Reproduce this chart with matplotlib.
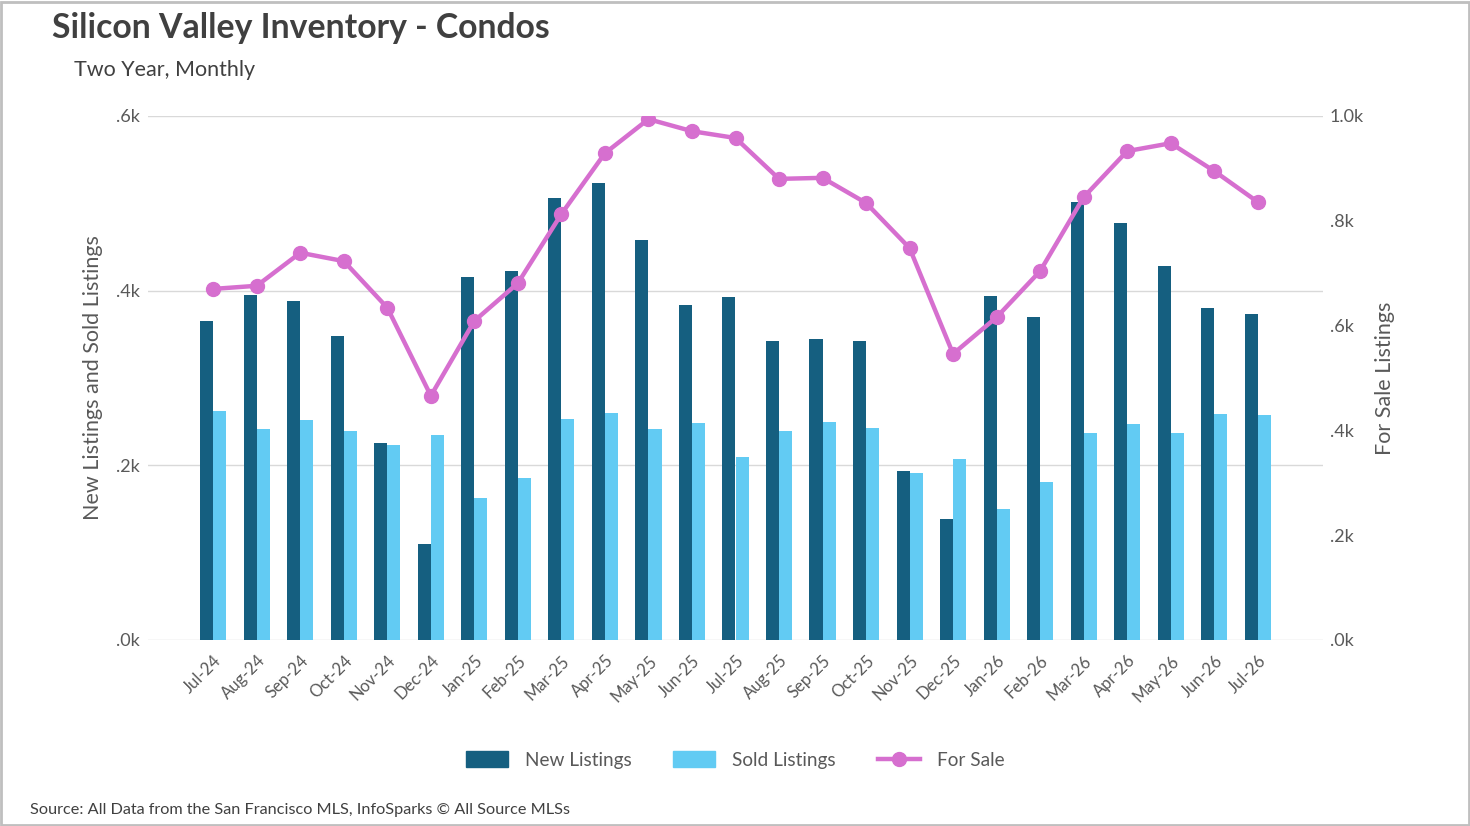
import matplotlib
matplotlib.use("Agg")
import matplotlib.pyplot as plt
from matplotlib.lines import Line2D
from matplotlib.patches import Patch, Rectangle
from matplotlib.transforms import ScaledTranslation
import numpy as np

plt.rcParams['font.family'] = ['Lato', 'DejaVu Sans']

months = ["Jul-24", "Aug-24", "Sep-24", "Oct-24", "Nov-24", "Dec-24", "Jan-25", "Feb-25",
          "Mar-25", "Apr-25", "May-25", "Jun-25", "Jul-25", "Aug-25", "Sep-25", "Oct-25",
          "Nov-25", "Dec-25", "Jan-26", "Feb-26", "Mar-26", "Apr-26", "May-26", "Jun-26", "Jul-26"]
new_listings = [365, 395, 388, 348, 226, 110, 416, 422, 506, 523, 458, 384, 393, 342, 345, 342,
                194, 139, 394, 370, 502, 477, 428, 380, 373]
sold_listings = [262, 242, 252, 239, 223, 235, 163, 185, 253, 260, 242, 248, 210, 239, 250, 243,
                 191, 207, 150, 181, 237, 247, 237, 259, 258]
for_sale = [670, 676, 739, 723, 634, 466, 609, 681, 813, 929, 994, 971, 958, 880, 882, 834,
            748, 546, 616, 704, 845, 933, 948, 895, 836]

left_ticks = [0, 200, 400, 600]
left_labels = [".0k", ".2k", ".4k", ".6k"]
right_ticks = [0, 200, 400, 600, 800, 1000]
right_labels = [".0k", ".2k", ".4k", ".6k", ".8k", "1.0k"]

c_new = "#155f80"
c_sold = "#62cbf3"
c_sale = "#d66fcf"
c_text = "#595959"
c_title = "#404040"

fig = plt.figure(figsize=(14.7, 8.26), dpi=100)
ax = fig.add_axes([148/1470, 1-640/826, (1323-148)/1470, (640-116)/826])
ax2 = ax.twinx()

x = np.arange(len(months))
w = 0.3
ax.bar(x - w/2, new_listings, width=w, color=c_new, zorder=3)
ax.bar(x + w/2, sold_listings, width=w, color=c_sold, zorder=3)
ax2.plot(x, for_sale, color=c_sale, lw=3.2, marker='o', ms=10, zorder=4)

ax.set_xlim(-1.5, 25.5)
ax.set_ylim(0, 600)
ax2.set_ylim(0, 1000)
ax.set_yticks(left_ticks)
ax.set_yticklabels(left_labels)
ax2.set_yticks(right_ticks)
ax2.set_yticklabels(right_labels)
ax.set_xticks(x)
ax.set_xticklabels(months, rotation=45, ha='right', rotation_mode='anchor')
off = ScaledTranslation(-5/100, 0, fig.dpi_scale_trans)
for lab in ax.get_xticklabels():
    lab.set_transform(lab.get_transform() + off)

for a in (ax, ax2):
    for s in a.spines.values():
        s.set_visible(False)
    a.tick_params(length=0, colors=c_text, labelsize=12)
ax.tick_params(axis='x', pad=9)
ax.tick_params(axis='y', pad=6, labelsize=13)
ax2.tick_params(axis='y', pad=5, labelsize=13)
ax.grid(axis='y', color='#d9d9d9', lw=1, zorder=0)
ax.set_axisbelow(True)

ax.set_ylabel("New Listings and Sold Listings", fontsize=15.5, color=c_text, labelpad=9)
ax2.set_ylabel("For Sale Listings", fontsize=15.5, color=c_text, labelpad=8)

fig.text(52/1470, 1-28/826, "Silicon Valley Inventory - Condos", fontsize=24.3, fontweight='bold',
         color=c_title, va='center', ha='left')
fig.text(74/1470, 1-70/826, "Two Year, Monthly", fontsize=15.5, color=c_title, va='center', ha='left')
fig.text(30/1470, 1-810/826, "Source: All Data from the San Francisco MLS, InfoSparks \u00a9 All Source MLSs",
         fontsize=11.7, color=c_title, va='center', ha='left')

handles = [Patch(color=c_new), Patch(color=c_sold),
           Line2D([0], [0], color=c_sale, lw=3.2, marker='o', ms=10)]
fig.legend(handles, ["New Listings", "Sold Listings", "For Sale"], loc='center',
           bbox_to_anchor=(735/1470, 1-760/826), ncol=3, frameon=False, fontsize=13.7,
           labelcolor=c_text, handlelength=2.2, handleheight=0.85, columnspacing=2.2, handletextpad=0.9)

fig.patches.append(Rectangle((0.001, 0.001), 0.998, 0.997, transform=fig.transFigure,
                             fill=False, edgecolor='#bfbfbf', lw=2))

fig.savefig("out.png", dpi=100)
